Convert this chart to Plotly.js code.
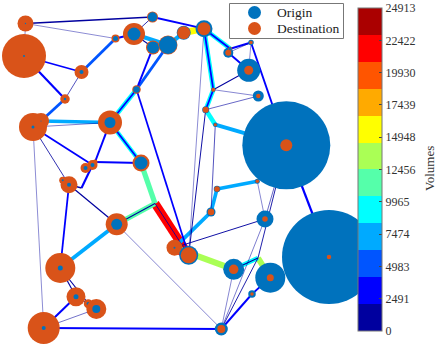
<!DOCTYPE html>
<html>
<head>
<meta charset="utf-8">
<script src="https://cdn.plot.ly/plotly-3.0.1.min.js"></script>
<style>html,body{margin:0;padding:0;background:#fff}#c{width:436px;height:347px}</style>
</head>
<body>
<div id="c"></div>
<script>
// Network node coordinates
const nodeX = [25.5,24,81.5,65,33,41,110,115.5,134,152.5,153,168,136.5,141,95,92.5,85.5,69,62.7,116.7,60.3,76,88.3,96.3,43.7,204,183.7,228.3,230.3,251,248.7,258.3,213.3,205.7,215.3,286.3,217,211,257.3,265,174.5,188.7,233.7,270.3,329,252,221.3,258,155,81.5];
const nodeY = [23.5,56,72,99,127,121,122.5,38.5,34,17,47.5,45,89.5,163,162,165,168,184.7,180.3,224.3,268,296.7,303.7,309,328,28.7,32.7,52.7,48.7,42.5,70.3,96,89.7,109.7,124.7,145.3,189,212,181.3,219,247.7,255.3,269.3,277.7,257,294,329,258,203.5,188];
// Trips per node
const originTrips = [2,4,16,6,9,1,121,25,169,90,144,324,42,169,1,16,16,16,4,121,25,25,12,64,16,289,196,100,9,30,529,121,20,49,20,7744,42,81,25,289,4,361,441,900,8836,56,169,0,0,0];
const destinationTrips = [256,1936,196,90,784,256,576,64,484,121,196,361,72,289,25,100,100,289,49,484,900,361,81,400,1024,169,169,36,16,12,81,20,16,36,9,144,30,42,12,30,256,256,90,49,20,12,64,0,0,0];
// Links
const edgeFrom = [0,0,0,1,1,2,2,3,5,4,6,12,6,6,6,14,7,8,8,8,9,10,11,12,13,48,48,41,48,19,19,19,19,17,20,20,21,24,24,21,4,4,4,17,49,25,26,25,28,25,32,32,33,33,34,25,33,34,28,27,27,29,29,30,32,33,35,36,36,37,38,35,35,47,39,39,40,42,47,47,42,45,45];
const edgeTo   = [9,7,1,2,3,3,7,5,6,6,12,6,13,13,14,13,8,9,11,10,25,12,12,41,48,41,41,40,19,48,20,17,46,20,21,22,22,23,46,24,24,15,17,49,15,26,11,28,25,32,25,33,32,34,35,41,41,37,29,29,30,30,35,32,31,31,44,38,37,40,39,47,39,46,46,40,42,47,42,43,46,46,43];
const edgeVolume = [1500,40,40,2300,3000,300,4500,4600,6500,100,9000,2300,8500,2200,2800,2800,3000,500,7500,800,2300,2800,4800,2200,11000,21500,500,21500,11000,800,7000,1200,60,2300,1100,900,600,150,2500,2800,40,2200,500,1500,3000,15500,8000,9000,2300,9000,2300,9000,2200,9000,7000,40,700,300,2800,100,2500,40,2500,800,60,200,3200,6500,6500,7000,60,600,200,600,100,700,13500,9000,800,13000,60,2600,2200];
// Colour bar
const volumeMax = 24913;
const tickValues = [0,2491,4983,7474,9965,12456,14948,17439,19930,22422,24913];
const bandColors = ['#00009f','#0000ff','#0055ff','#00aaff','#00ffff','#55ffaa','#aaff55','#ffff00','#ffaa00','#ff5500','#ff0000','#aa0000'];
// Legend
const legendLabels = ['Origin','Destination'];
const originColor = '#0072bd';
const destinationColor = '#d95319';
const serif = '"Liberation Serif", serif';

const nBands = bandColors.length;
const bandOf = v => bandColors[Math.min(nBands-1, Math.floor(v/volumeMax*nBands))];
const widthOf = v => 0.4 + Math.pow(v,0.8)/350;
const stepped = [];
bandColors.forEach((c,i)=>{ stepped.push([i/nBands,c]); stepped.push([(i+1)/nBands,c]); });

const order = edgeVolume.map((_,i)=>i).sort((a,b)=>edgeVolume[b]-edgeVolume[a]);
const traces = order.map(i=>({
  type:'scatter', mode:'lines', hoverinfo:'skip', showlegend:false,
  x:[nodeX[edgeFrom[i]],nodeX[edgeTo[i]]],
  y:[nodeY[edgeFrom[i]],nodeY[edgeTo[i]]],
  line:{color:bandOf(edgeVolume[i]),width:widthOf(edgeVolume[i])}
}));

// Each node: larger disc first, smaller on top
const mx=[],my=[],ms=[],mc=[];
nodeX.forEach((x,i)=>{
  const pair=[[originTrips[i],originColor],[destinationTrips[i],destinationColor]].sort((a,b)=>b[0]-a[0]);
  pair.forEach(p=>{ if(p[0]>0){ mx.push(x); my.push(nodeY[i]); ms.push(Math.sqrt(p[0])); mc.push(p[1]); } });
});
traces.push({type:'scatter',mode:'markers',hoverinfo:'skip',showlegend:false,x:mx,y:my,
  marker:{size:ms,color:mc,line:{width:0},opacity:1}});

// Legend keys
traces.push({type:'scatter',mode:'markers',name:legendLabels[0],showlegend:false,hoverinfo:'skip',x:[254.5],y:[12.5],marker:{size:13,color:originColor,line:{width:0}}});
traces.push({type:'scatter',mode:'markers',name:legendLabels[1],showlegend:false,hoverinfo:'skip',x:[254.5],y:[28.5],marker:{size:13,color:destinationColor,line:{width:0}}});

// Colour bar carrier
traces.push({type:'scatter',mode:'markers',showlegend:false,hoverinfo:'skip',x:[-500,-500],y:[-500,-500],
  marker:{size:1,color:[0,volumeMax],cmin:0,cmax:volumeMax,colorscale:stepped,showscale:true,
    colorbar:{
      x:358/436,xanchor:'left',y:1-8/347,yanchor:'top',
      thicknessmode:'pixels',thickness:24,lenmode:'pixels',len:323,
      xpad:0,ypad:0,outlinecolor:'#777',outlinewidth:1,borderwidth:0,
      tickmode:'array',tickvals:tickValues,ticktext:tickValues.map(String),
      ticks:'inside',ticklen:3,tickcolor:'#444',tickwidth:1,
      tickfont:{family:serif,size:12,color:'#333'}
    }}});

const legendText = (t,y)=>({text:t,xref:'x',yref:'y',x:275,y:y,showarrow:false,xanchor:'left',yanchor:'middle',
  font:{family:serif,size:13.5,color:'#222'}});

const layout = {
  width:436,height:347,margin:{l:0,r:0,t:0,b:0},
  paper_bgcolor:'#fff',plot_bgcolor:'#fff',showlegend:false,
  xaxis:{range:[0,436],visible:false,fixedrange:true},
  yaxis:{range:[347,0],visible:false,fixedrange:true},
  shapes:[{type:'rect',xref:'x',yref:'y',x0:229.5,x1:343.5,y0:3.5,y1:38.5,layer:'below',fillcolor:'#fff',line:{color:'#777',width:1}}],
  annotations:[
    legendText(legendLabels[0],12),
    legendText(legendLabels[1],28),
    {text:'Volumes',xref:'paper',yref:'paper',x:429/436,y:1-169/347,showarrow:false,textangle:-90,
    xanchor:'center',yanchor:'middle',font:{family:serif,size:13,color:'#333'}}]
};
Plotly.newPlot('c',traces,layout,{displayModeBar:false,staticPlot:true});
</script>
</body>
</html>
